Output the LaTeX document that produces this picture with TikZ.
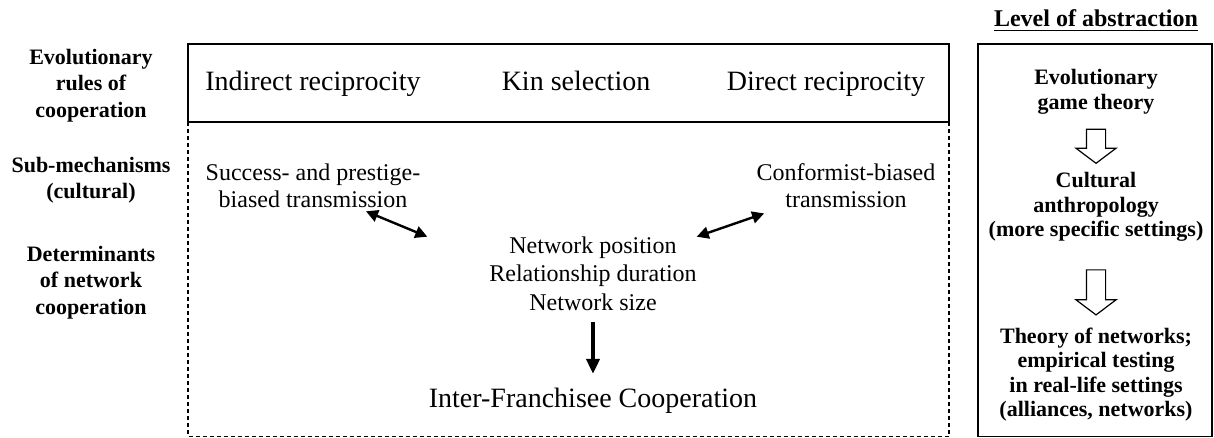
\documentclass[tikz,border=0pt]{standalone}
\usepackage{fontspec}
\setmainfont{Liberation Serif}
\usepackage{tikz}
\usetikzlibrary{positioning, shapes, arrows.meta, calc}

\begin{document}
\begin{tikzpicture}[x=0.5pt, y=-0.5pt,
        lbl/.style={font=\fontsize{11}{13.25}\selectfont\bfseries, align=center},
        lvl/.style={font=\fontsize{11}{12.25}\selectfont\bfseries, align=center, inner sep=0pt},
        rule/.style={font=\fontsize{14}{16}\selectfont, anchor=base},
        mech/.style={font=\fontsize{12}{13.8}\selectfont, align=center},
        dbl/.style={{Triangle[length=6pt,width=6pt]}-{Triangle[length=6pt,width=6pt]}, line width=1.2pt},
        hollow/.style={single arrow, draw, line width=0.6pt, rotate=-90, inner sep=4.5pt,
            minimum width=19.5pt, single arrow head extend=5.25pt, single arrow tip angle=106}]

        \useasboundingbox (0,0) rectangle (1214,438);

        % 枠の描画
        \draw[line width=0.7pt] (188,44) rectangle (949,122);
        \draw[line width=0.75pt, dash pattern=on 2pt off 1.5pt] (188,122) -- (188,436.5) -- (949,436.5) -- (949,122);
        \draw[line width=0.7pt] (978,44) rectangle (1212,436.5);

        % 左のラベル
        \node[lbl] (evo) at (91,85.4) {Evolutionary\\rules of\\cooperation};
        \node[lbl] (sub) at (91,180) {Sub-mechanisms\\(cultural)};
        \node[lbl] (det) at (91,282.4) {Determinants\\of network\\cooperation};

        % 上の段
        \node[rule] (ind) at (313,91) {Indirect reciprocity};
        \node[rule] (kin) at (576,91) {Kin selection};
        \node[rule] (dir) at (826,91) {Direct reciprocity};

        % 中の段
        \node[mech] (succ) at (313,185.6) {Success- and prestige-\\biased transmission};
        \node[mech] (conf) at (846,185.6) {Conformist-biased\\transmission};
        \node[mech, font=\fontsize{12}{14.25}\selectfont] (net) at (593,273.3) {Network position\\Relationship duration\\Network size};
        \node[rule] (ifc) at (593,407) {Inter-Franchisee Cooperation};

        % 矢印
        \draw[dbl] ($(succ.south)+(53,-3.6)$) -- ($(net.north west)+(-55,7.4)$);
        \draw[dbl] ($(conf.south west)+(14.5,-1.6)$) -- ($(net.north east)+(-7,7.4)$);
        \draw[-{Triangle[length=7.5pt,width=6.5pt]}, line width=2pt, shorten <=2.5pt, shorten >=3.3pt] (net) -- (ifc);

        % 右の枠
        \node[font=\fontsize{12}{14}\selectfont\bfseries, anchor=base] (lev) at (1096,27) {\underline{Level of abstraction}};
        \node[lvl] (egt) at (1096,91.9) {Evolutionary\\game theory};
        \node[lvl] (cult) at (1096,206.9) {Cultural\\anthropology\\(more specific settings)};
        \node[lvl] (theo) at (1096,374.4) {Theory of networks;\\empirical testing\\in real-life settings\\(alliances, networks)};
        \path (egt) -- node[hollow, minimum height=17pt, pos=0.49] {} (cult);
        \path (cult) -- node[hollow, minimum height=22.5pt, pos=0.55] {} (theo);
    \end{tikzpicture}
\end{document}
